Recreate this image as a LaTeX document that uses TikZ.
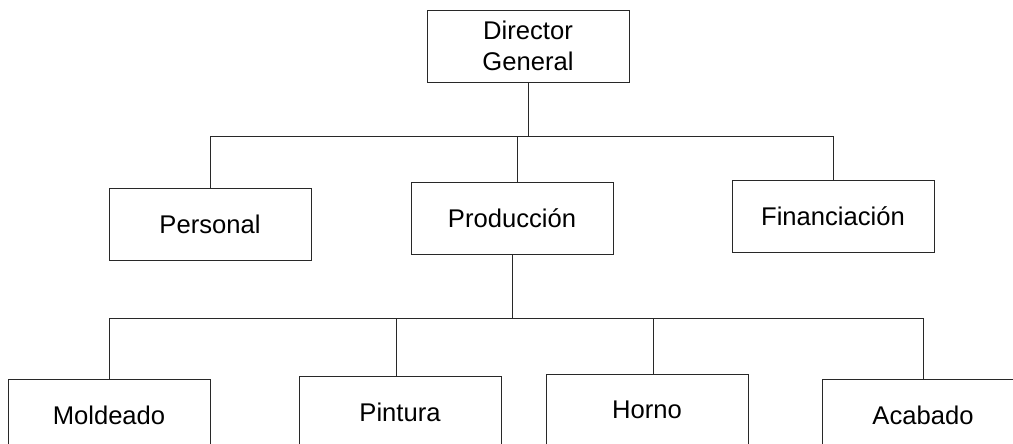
\documentclass[tikz,border=0pt]{standalone}
\usepackage{fontspec}
\setmainfont{Liberation Sans}
\definecolor{linecol}{RGB}{40,40,40}
\tikzset{
  dept/.style={
    draw=linecol,
    line width=0.75pt,
    rectangle,
    minimum width=151.5pt,
    minimum height=54pt,
    inner sep=0pt,
    align=center,
    font=\fontsize{19.2}{23.5}\selectfont
  },
  link/.style={draw=linecol, line width=0.75pt}
}

\begin{document}
\begin{tikzpicture}[x=0.75pt,y=-0.75pt]
  \useasboundingbox (0,0) rectangle (1013,443);

  % top level
  \node[dept] (dir) at (528,46) {Director\\General};

  % second level
  \node[dept] (pers) at (210,224) {Personal};
  \node[dept] (prod) at (512,218) {Producción};
  \node[dept] (fin)  at (833,216) {Financiación};

  % third level
  \node[dept] (mold) at (109,415) {Moldeado};
  \node[dept] (pint) at (400,412) {Pintura};
  \node[dept] (horn) at (647,410) {Horno};
  \node[dept] (acab) at (923,415) {Acabado};

  % bus lines
  \coordinate (topbus) at (0,136);
  \coordinate (lowbus) at (0,318);

  \draw[link] (dir.south) -- (dir.south |- topbus);
  \draw[link] (pers.north) -- (pers.north |- topbus)
    -- (fin.north |- topbus) -- (fin.north);
  \draw[link] ([xshift=4]prod.north) -- ([xshift=4]prod.north |- topbus);

  \draw[link] (prod.south) -- (prod.south |- lowbus);
  \draw[link] (mold.north) -- (mold.north |- lowbus)
    -- (acab.north |- lowbus) -- (acab.north);
  \draw[link] ([xshift=-3]pint.north) -- ([xshift=-3]pint.north |- lowbus);
  \draw[link] ([xshift=5]horn.north) -- ([xshift=5]horn.north |- lowbus);
\end{tikzpicture}
\end{document}
